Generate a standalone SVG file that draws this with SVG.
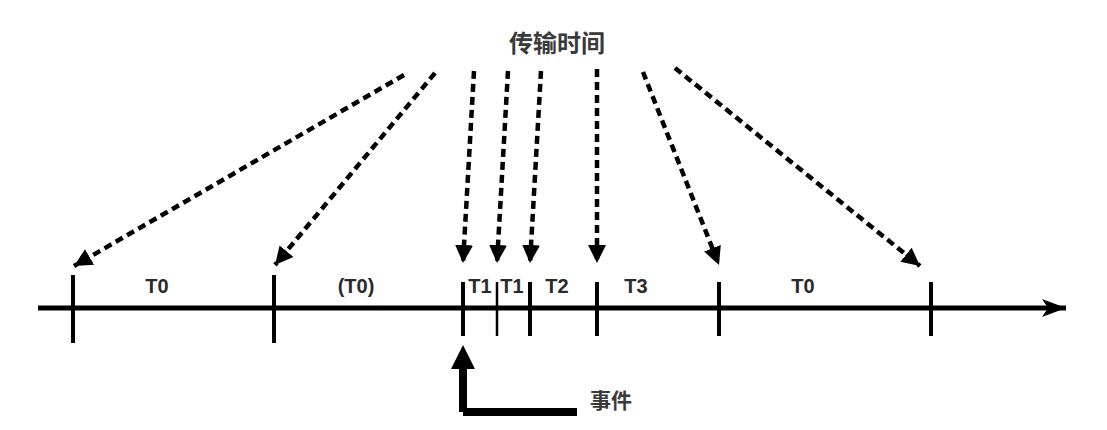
<svg xmlns="http://www.w3.org/2000/svg" width="1107" height="430" viewBox="0 0 1107 430">
<style>
.lbl{font-family:"Liberation Sans",Arial,sans-serif;font-size:20px;font-weight:bold;fill:#2a2a2a;text-anchor:middle}
.cjk{font-family:"Noto Sans CJK SC","Liberation Sans",sans-serif;font-weight:bold;fill:#3a3a3a;text-anchor:middle}
.tick{stroke:#000;stroke-width:4}
.dash{stroke:#000;stroke-width:4.5;stroke-dasharray:8 5;fill:none;marker-end:url(#ah)}
</style>
<defs>
<marker id="ah" markerUnits="userSpaceOnUse" markerWidth="20" markerHeight="20" viewBox="0 0 20 20" refX="18" refY="10" orient="auto">
<path d="M0,1 L18,10 L0,19 Z" fill="#000"/>
</marker>
<marker id="axh" markerUnits="userSpaceOnUse" markerWidth="26" markerHeight="20" viewBox="0 0 26 20" refX="24" refY="10" orient="auto">
<path d="M0,1 L24,10 L0,19 L6,10 Z" fill="#000"/>
</marker>
</defs>
<rect width="1107" height="430" fill="#fff"/>
<g id="axis">
<line x1="38" y1="308" x2="1066" y2="308" stroke="#000" stroke-width="5" marker-end="url(#axh)"/>
<line class="tick" x1="73" y1="275" x2="73" y2="343"/>
<line class="tick" x1="274" y1="275" x2="274" y2="343"/>
<line class="tick" x1="463" y1="282" x2="463" y2="336"/>
<line x1="497" y1="282" x2="497" y2="336" stroke="#000" stroke-width="2.5"/>
<line class="tick" x1="530" y1="282" x2="530" y2="336"/>
<line class="tick" x1="597" y1="282" x2="597" y2="336"/>
<line class="tick" x1="719" y1="282" x2="719" y2="336"/>
<line class="tick" x1="931" y1="282" x2="931" y2="336"/>
</g>
<g id="labels">
<text class="lbl" x="157" y="293">T0</text>
<text class="lbl" x="356" y="293">(T0)</text>
<text class="lbl" x="480" y="293">T1</text>
<text class="lbl" x="512" y="293">T1</text>
<text class="lbl" x="557" y="293">T2</text>
<text class="lbl" x="636" y="293">T3</text>
<text class="lbl" x="803" y="293">T0</text>
</g>
<g id="title">
<text class="cjk" x="557" y="52" font-size="24">传输时间</text>
</g>
<g id="event">
<path d="M463,412 L463,362 M463,412 L577,412" stroke="#000" stroke-width="8" fill="none"/>
<path d="M463,345 L475,369 L451,369 Z" fill="#000"/>
<text class="cjk" x="611" y="408" font-size="21">事件</text>
</g>
<g id="connectors">
<line class="dash" x1="404" y1="75" x2="74" y2="266"/>
<line class="dash" x1="435" y1="73" x2="275" y2="265"/>
<line class="dash" x1="474" y1="71" x2="463" y2="263"/>
<line class="dash" x1="508" y1="71" x2="497" y2="263"/>
<line class="dash" x1="541" y1="71" x2="530" y2="263"/>
<line class="dash" x1="597" y1="69" x2="597" y2="263"/>
<line class="dash" x1="643" y1="72" x2="719" y2="265"/>
<line class="dash" x1="675" y1="68" x2="920" y2="266"/>
</g>
</svg>
